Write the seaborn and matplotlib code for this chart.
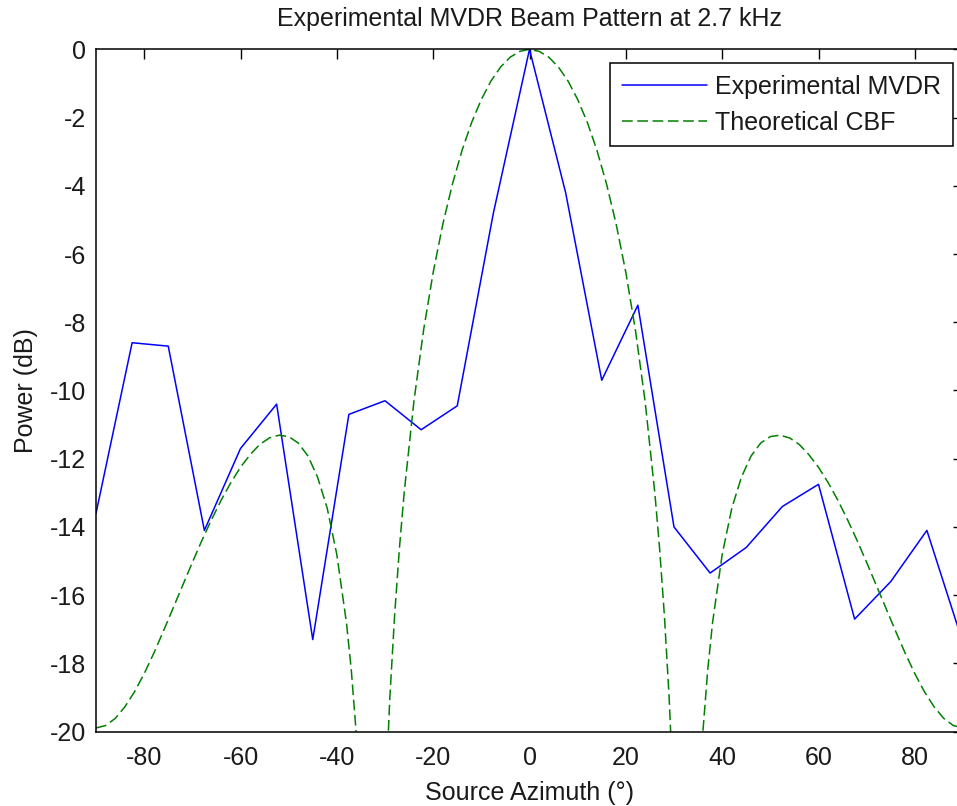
import matplotlib
matplotlib.use("Agg")
import matplotlib.pyplot as plt
import seaborn as sns
import pandas as pd

# Experimental MVDR beam pattern (every 7.5 degrees)
mvdr_angle = [-90, -82.5, -75, -67.5, -60, -52.5, -45, -37.5, -30, -22.5, -15, -7.5,
              0, 7.5, 15, 22.5, 30, 37.5, 45, 52.5, 60, 67.5, 75, 82.5, 90]
mvdr_power = [-13.6, -8.6, -8.7, -14.1, -11.7, -10.4, -17.3, -10.7, -10.3, -11.15, -10.45, -4.8,
              0.0, -4.2, -9.7, -7.5, -14.0, -15.35, -14.6, -13.4, -12.75, -16.7, -15.6, -14.1, -17.4]

# Theoretical CBF beam pattern
cbf_angle = [-90, -88, -86, -84, -82, -80, -78, -76, -74, -72, -70, -68, -66, -64, -62, -60,
             -58, -56, -54, -52, -50, -48, -46, -44, -42, -40, -38, -37, -36, -35, -34, -33,
             -32, -31, -30, -29, -28, -27, -26, -24, -22, -20, -18, -16, -14, -12, -10, -8,
             -6, -4, -2, 0, 2, 4, 6, 8, 10, 12, 14, 16, 18, 20, 22, 24, 26, 27, 28, 29, 30,
             31, 32, 33, 34, 35, 36, 37, 38, 40, 42, 44, 46, 48, 50, 52, 54, 56, 58, 60, 62,
             64, 66, 68, 70, 72, 74, 76, 78, 80, 82, 84, 86, 88, 90]
cbf_power = [-19.89, -19.82, -19.61, -19.27, -18.83, -18.30, -17.70, -17.05, -16.38, -15.71,
             -15.04, -14.39, -13.78, -13.21, -12.70, -12.25, -11.88, -11.58, -11.39, -11.31,
             -11.35, -11.54, -11.92, -12.54, -13.45, -14.81, -16.81, -18.19, -20.00, -22.51,
             -26.34, -34.41, -38.90, -27.26, -22.28, -19.02, -16.58, -14.61, -12.97, -10.32,
             -8.24, -6.54, -5.13, -3.95, -2.96, -2.14, -1.47, -0.93, -0.52, -0.23, -0.06,
             0.00,
             -0.06, -0.23, -0.52, -0.93, -1.47, -2.14, -2.96, -3.95, -5.13, -6.54, -8.24,
             -10.32, -12.97, -14.61, -16.58, -19.02, -22.28, -27.26, -38.90, -34.41, -26.34,
             -22.51, -20.00, -18.19, -16.81, -14.81, -13.45, -12.54, -11.92, -11.54, -11.35,
             -11.31, -11.39, -11.58, -11.88, -12.25, -12.70, -13.21, -13.78, -14.39, -15.04,
             -15.71, -16.38, -17.05, -17.70, -18.30, -18.83, -19.27, -19.61, -19.82, -19.89]

x_ticks = [-80, -60, -40, -20, 0, 20, 40, 60, 80]
y_ticks = [-20, -18, -16, -14, -12, -10, -8, -6, -4, -2, 0]

sns.set_style("white")
plt.rcParams['font.family'] = ['Liberation Sans', 'DejaVu Sans']
plt.rcParams['axes.unicode_minus'] = False

FS = 18
TXT = "#1a1a1a"
fig = plt.figure(figsize=(9.57, 8.06), dpi=100)
ax = fig.add_axes([96 / 957, 1 - 731.7 / 806, (963 - 96) / 957, (731.7 - 49.3) / 806])

df_mvdr = pd.DataFrame({"angle": mvdr_angle, "power": mvdr_power})
df_cbf = pd.DataFrame({"angle": cbf_angle, "power": cbf_power})

sns.lineplot(data=df_mvdr, x="angle", y="power", ax=ax, color="#0000FF",
             linewidth=1.1, label="Experimental MVDR", sort=False, estimator=None)
sns.lineplot(data=df_cbf, x="angle", y="power", ax=ax, color="#008000",
             linewidth=1.1, label="Theoretical CBF", sort=False, estimator=None)
ax.lines[1].set_dashes([7, 3])

ax.set_xlim(-90, 90)
ax.set_ylim(-20, 0)
ax.set_xticks(x_ticks)
ax.set_yticks(y_ticks)
ax.set_xticklabels([str(v) for v in x_ticks])
ax.set_yticklabels([str(v) for v in y_ticks])

for s in ax.spines.values():
    s.set_visible(True)
    s.set_color("black")
    s.set_linewidth(1.1)

ax.tick_params(axis="both", which="major", direction="in", length=7, width=1.0,
               top=True, right=True, labelsize=FS, colors="black", labelcolor=TXT)
ax.tick_params(axis="x", pad=10.5)
ax.tick_params(axis="y", pad=7)

ax.set_title("Experimental MVDR Beam Pattern at 2.7 kHz", fontsize=FS, pad=17, color=TXT)
ax.set_xlabel("Source Azimuth (°)", fontsize=FS, labelpad=8, color=TXT)
ax.set_ylabel("Power (dB)", fontsize=FS, labelpad=9, color=TXT)

leg = ax.legend(loc="upper right", bbox_to_anchor=(952.7 / 957, 1 - 63.3 / 806),
                bbox_transform=fig.transFigure, borderaxespad=0, fontsize=FS,
                frameon=True, fancybox=False, shadow=False, framealpha=1,
                handlelength=3.4, handletextpad=0.35, borderpad=0.45, labelspacing=0.5)
leg.get_frame().set_edgecolor("black")
leg.get_frame().set_linewidth(1.1)
for t in leg.get_texts():
    t.set_color(TXT)

fig.savefig("out.png", dpi=100)
